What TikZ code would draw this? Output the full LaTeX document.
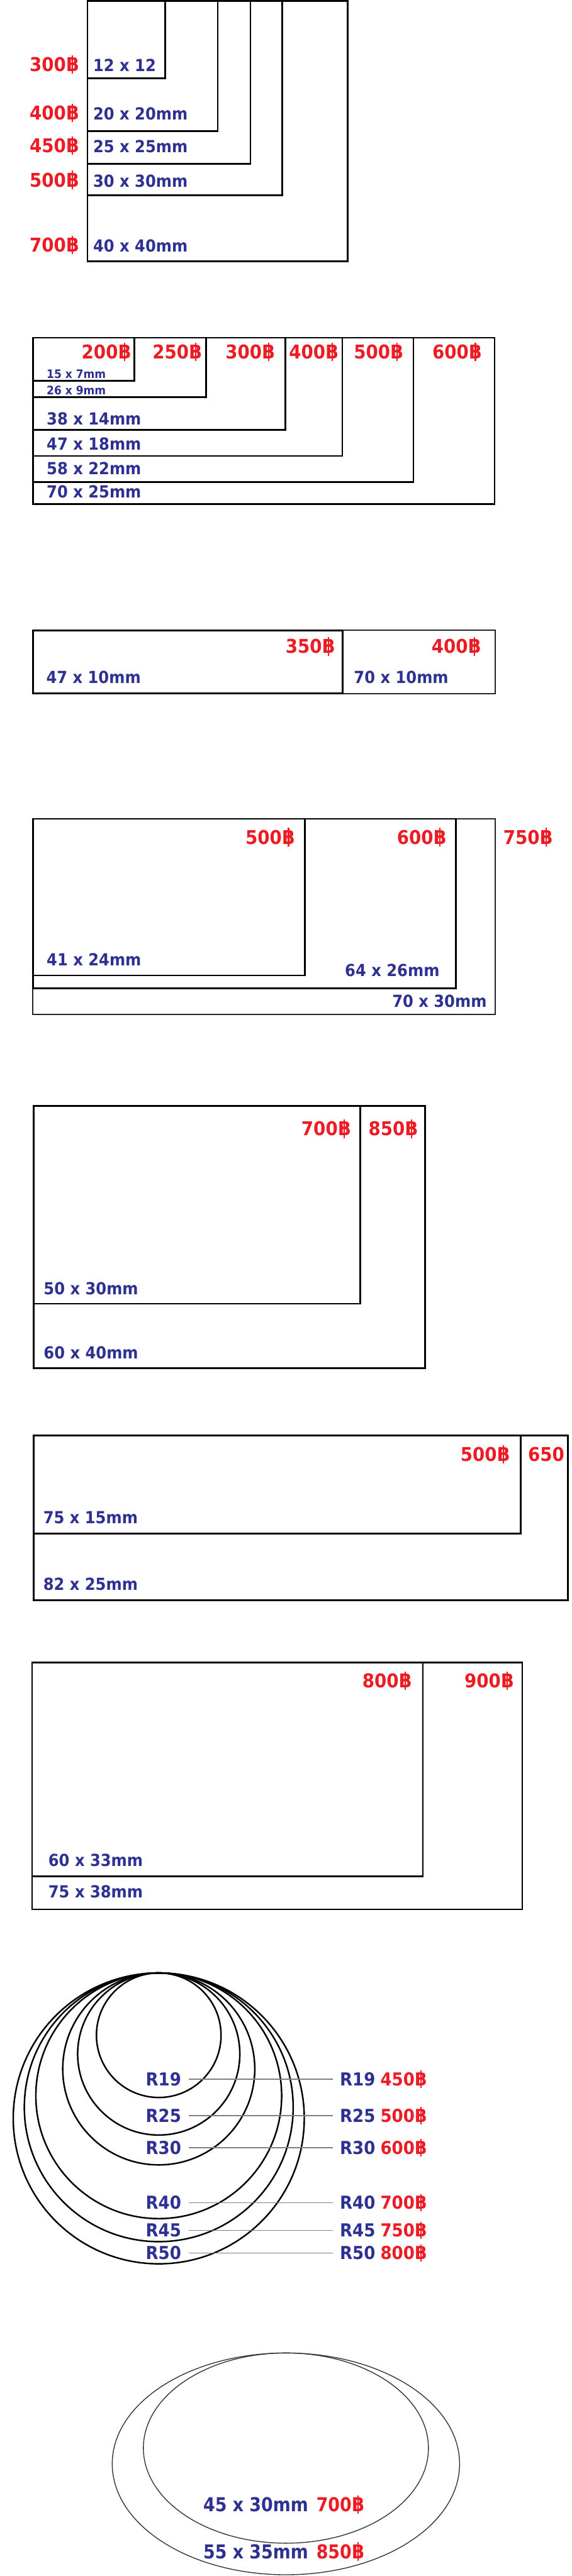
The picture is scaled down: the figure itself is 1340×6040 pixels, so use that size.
\documentclass[tikz,border=0pt]{standalone}
\usepackage{fontspec}
\setmainfont{DejaVu Sans}[FakeStretch=0.915]
\newfontfamily\narrowfont{DejaVu Sans}[FakeStretch=0.88]
\definecolor{navy}{HTML}{2E3192}
\definecolor{pred}{HTML}{ED1C24}
\newcommand{\bahtsign}{\ooalign{B\cr\hidewidth\rule[-0.12em]{0.07em}{0.97em}\hidewidth\cr}}
\tikzset{
  box/.style={draw=black, line width=2pt},
  lightbox/.style={draw=black!85, line width=1.6pt},
  ring/.style={draw=black, line width=1.8pt},
  thinring/.style={draw=black!80, line width=1pt},
  conn/.style={draw=black!50, line width=1.1pt},
  size/.style={text=navy, font=\bfseries\fontsize{19.5}{20}\selectfont, inner sep=0pt},
  small/.style={text=navy, font=\bfseries\fontsize{13.75}{14}\selectfont, inner sep=0pt},
  price/.style={text=pred, font=\bfseries\fontsize{22.3}{23}\selectfont, inner sep=0pt},
  rsize/.style={text=navy, font=\bfseries\fontsize{21}{22}\selectfont, inner sep=0pt},
  rprice/.style={text=pred, font=\bfseries\fontsize{21}{22}\selectfont, inner sep=0pt},
  osize/.style={text=navy, font=\narrowfont\bfseries\fontsize{22.5}{23}\selectfont, inner sep=0pt},
  oprice/.style={text=pred, font=\narrowfont\bfseries\fontsize{22.5}{23}\selectfont, inner sep=0pt},
}
\begin{document}
\begin{tikzpicture}[x=0.5pt, y=-0.5pt]
\useasboundingbox (0,0) rectangle (1340,6040);
\fill[white] (0,0) rectangle (1340,6040);

% ---------- group 1: squares ----------
\draw[box] (205,2) rectangle (815,613);
\draw[box] (205,2) rectangle (661,458);
\draw[box] (205,2) rectangle (587,384);
\draw[box] (205,2) rectangle (510,307);
\draw[box] (205,2) rectangle (387,184);
\node[size, anchor=base west] (s12) at (218,167) {12 x 12};
\node[size, anchor=base west] (s20) at (218,281) {20 x 20mm};
\node[size, anchor=base west] (s25) at (218,358) {25 x 25mm};
\node[size, anchor=base west] (s30) at (218,438) {30 x 30mm};
\node[size, anchor=base west] (s40) at (218,591) {40 x 40mm};
\node[price, anchor=base east] (p12) at (186,167) {300\bahtsign};
\node[price, anchor=base east] (p20) at (186,281) {400\bahtsign};
\node[price, anchor=base east] (p25) at (186,358) {450\bahtsign};
\node[price, anchor=base east] (p30) at (186,438) {500\bahtsign};
\node[price, anchor=base east] (p40) at (186,591) {700\bahtsign};

% ---------- group 2 ----------
\draw[box] (77,792) rectangle (1159,1182);
\draw[box] (77,792) rectangle (969,1130);
\draw[box] (77,792) rectangle (802,1069);
\draw[box] (77,792) rectangle (669,1008);
\draw[box] (77,792) rectangle (483,931);
\draw[box] (77,792) rectangle (315,893);
\node[price, anchor=base east] (q1) at (308,841) {200\bahtsign};
\node[price, anchor=base east] (q2) at (474,841) {250\bahtsign};
\node[price, anchor=base east] (q3) at (645,841) {300\bahtsign};
\node[price, anchor=base east] (q4) at (794,841) {400\bahtsign};
\node[price, anchor=base east] (q5) at (946,841) {500\bahtsign};
\node[price, anchor=base east] (q6) at (1130,841) {600\bahtsign};
\node[small, anchor=base west] (t1) at (109,887) {15 x 7mm};
\node[small, anchor=base west] (t2) at (109,926) {26 x 9mm};
\node[size, anchor=base west] (t3) at (109,996) {38 x 14mm};
\node[size, anchor=base west] (t4) at (109,1055) {47 x 18mm};
\node[size, anchor=base west] (t5) at (109,1113) {58 x 22mm};
\node[size, anchor=base west] (t6) at (109,1167) {70 x 25mm};

% ---------- group 3 ----------
\draw[lightbox] (77,1478) rectangle (1160,1626);
\draw[box] (77,1478) rectangle (803,1626);
\node[price, anchor=base east] (u1) at (786,1532) {350\bahtsign};
\node[price, anchor=base east] (u2) at (1128,1532) {400\bahtsign};
\node[size, anchor=base west] (v1) at (108,1602) {47 x 10mm};
\node[size, anchor=base west] (v2) at (829,1602) {70 x 10mm};

% ---------- group 4 ----------
\draw[lightbox] (77,1920) rectangle (1160,2378);
\draw[box] (77,1920) rectangle (1068,2317);
\draw[box] (77,1920) rectangle (714,2287);
\node[price, anchor=base east] (w1) at (692,1979) {500\bahtsign};
\node[price, anchor=base east] (w2) at (1047,1979) {600\bahtsign};
\node[price, anchor=base west] (w3) at (1179,1979) {750\bahtsign};
\node[size, anchor=base west] (x1) at (109,2264) {41 x 24mm};
\node[size, anchor=base west] (x2) at (808,2289) {64 x 26mm};
\node[size, anchor=base east] (x3) at (1141,2361) {70 x 30mm};

% ---------- group 5 ----------
\draw[box] (79,2593) rectangle (996,3208);
\draw[box] (79,2593) rectangle (844,3057);
\node[price, anchor=base east] (y1) at (823,2663) {700\bahtsign};
\node[price, anchor=base west] (y2) at (863,2663) {850\bahtsign};
\node[size, anchor=base west] (z1) at (102,3036) {50 x 30mm};
\node[size, anchor=base west] (z2) at (102,3186) {60 x 40mm};

% ---------- group 6 ----------
\draw[box] (79,3366) rectangle (1331,3752);
\draw[box] (79,3366) rectangle (1220,3596);
\node[price, anchor=base east] (a1) at (1196,3426) {500\bahtsign};
\node[price, anchor=base west] (a2) at (1237,3426) {650};
\node[size, anchor=base west] (b1) at (101,3572) {75 x 15mm};
\node[size, anchor=base west] (b2) at (101,3728) {82 x 25mm};

% ---------- group 7 ----------
\draw[box] (75,3898) rectangle (1224,4477);
\draw[box] (75,3898) rectangle (991,4399);
\node[price, anchor=base east] (c1) at (966,3957) {800\bahtsign};
\node[price, anchor=base east] (c2) at (1205,3957) {900\bahtsign};
\node[size, anchor=base west] (d1) at (113,4376) {60 x 33mm};
\node[size, anchor=base west] (d2) at (113,4450) {75 x 38mm};

% ---------- group 8: circles ----------
\draw[ring] (372,4772) circle[radius=146];
\draw[ring] (372,4816) circle[radius=190];
\draw[ring] (372,4851) circle[radius=225];
\draw[ring] (372,4914) circle[radius=288];
\draw[ring] (372,4941) circle[radius=315];
\draw[ring] (372,4967) circle[radius=341];
\foreach \r/\yy/\pp in {19/4890/450, 25/4976/500, 30/5051/600, 40/5180/700, 45/5245/750, 50/5298/800}{
  \node[rsize, anchor=base east] (L\r) at (425,\yy) {R\r};
  \node[rsize, anchor=base west] (R\r) at (796,\yy) {R\r};
  \node[rprice, anchor=base west] (P\r) at (891,\yy) {\pp\bahtsign};
  \draw[conn, shorten <=9pt, shorten >=8pt] (L\r.east) -- (R\r.west);
}

% ---------- group 9: ovals ----------
\draw[thinring] (670,5777) ellipse[x radius=407, y radius=260];
\draw[thinring] (670,5740) ellipse[x radius=334, y radius=223];
\node[osize, anchor=base west] (e1) at (476,5889) {45 x 30mm};
\node[oprice, anchor=base west] (f1) at (741,5889) {700\bahtsign};
\node[osize, anchor=base west] (e2) at (476,5999) {55 x 35mm};
\node[oprice, anchor=base west] (f2) at (741,5999) {850\bahtsign};
\end{tikzpicture}
\end{document}
